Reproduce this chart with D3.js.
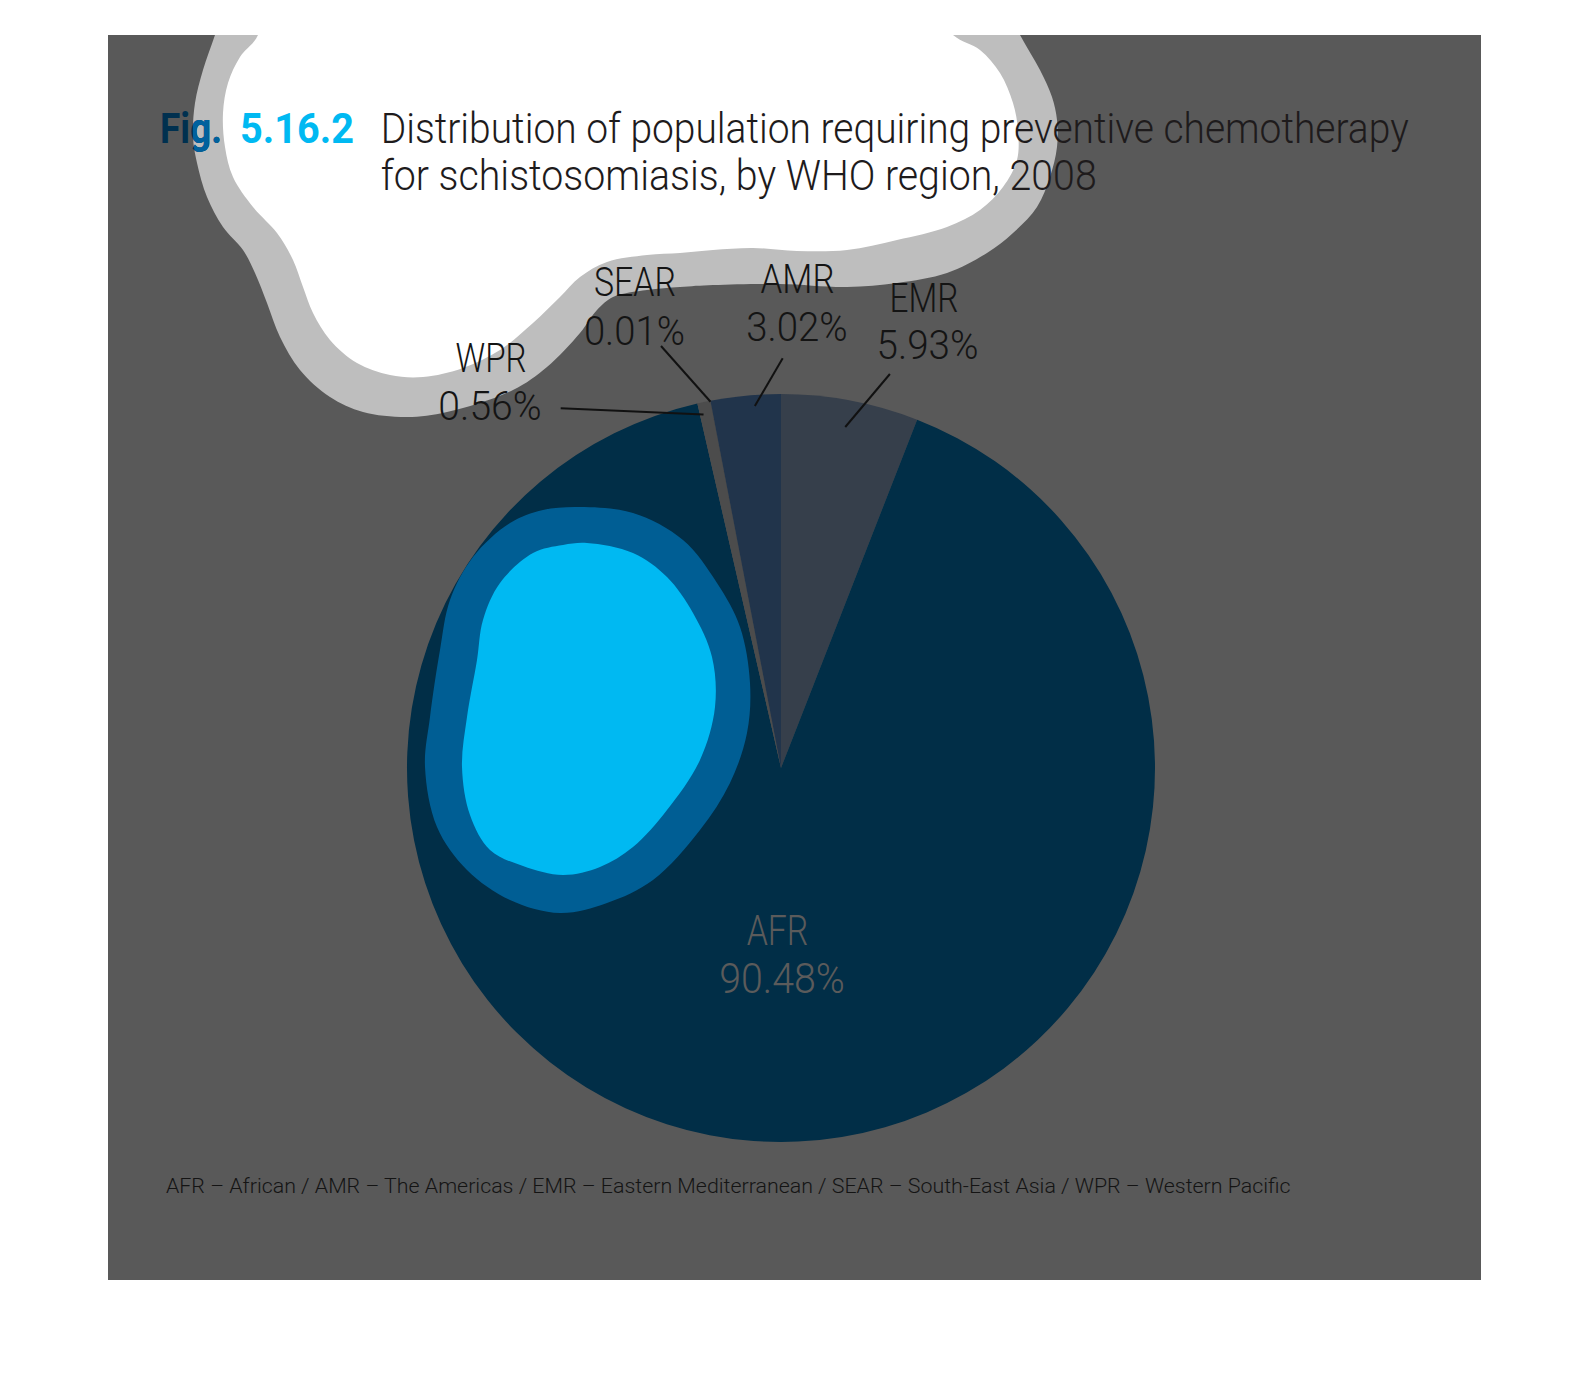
<!DOCTYPE html>
<html>
<head>
<meta charset="utf-8">
<script src="https://cdn.jsdelivr.net/npm/d3@7"></script>
<style>
  html, body { margin: 0; padding: 0; background: #ffffff; }
  svg { display: block; }
</style>
</head>
<body>
<script>
// ---------------- DATA ----------------
const regions = ["EMR", "AFR", "WPR", "SEAR", "AMR"];          // clockwise from 12 o'clock
const shares = [5.93, 90.48, 0.56, 0.01, 3.02];                  // percent of population
const shareLabels = ["5.93%", "90.48%", "0.56%", "0.01%", "3.02%"];
const figNumberParts = ["Fig.", "5.16.2"];
const titleLines = [
  "Distribution of population requiring preventive chemotherapy",
  "for schistosomiasis, by WHO region, 2008"
];
const footnote = "AFR – African / AMR – The Americas / EMR – Eastern Mediterranean / SEAR – South-East Asia / WPR – Western Pacific";

// ---------------- LAYOUT / STYLE ----------------
const W = 1590, H = 1374;
const panel = {x: 108, y: 35, w: 1373, h: 1245};
const cx = 781, cy = 768, R = 374;
const sliceColors = {EMR: "#363f4b", AFR: "#012e47", WPR: "#4c4c4c", SEAR: "#3a3a3a", AMR: "#21344b"};
const FONT = "Roboto, 'Liberation Sans Narrow', 'DejaVu Sans Condensed', sans-serif";
const LIGHT = 300;

// label placement (center x, baseline of name, baseline of value, text widths, leader line)
const labelLayout = {
  SEAR: {x1: 635, x2: 634.4, y1: 296, y2: 345, w1: 82, w2: 101, line: {ox: 661, oy: 346, t: 0.5, r: 373}},
  AMR:  {x1: 797.5, x2: 797, y1: 293.3, y2: 340.7, w1: 74, w2: 101.4, line: {ox: 782.7, oy: 358.3, t: 0.62, r: 363}},
  EMR:  {x1: 924, x2: 927.5, y1: 311.7, y2: 359.3, w1: 69, w2: 102, line: {ox: 889.9, oy: 374, t: 0.5, r: 347}},
  WPR:  {x1: 491, x2: 490, y1: 371.7, y2: 420, w1: 71, w2: 103.3, line: {ox: 560.7, oy: 408.3, t: 0.28, r: 362}},
  AFR:  {x1: 777.5, x2: 782, y1: 945, y2: 993.3, w1: 61.7, w2: 125.7, inside: true}
};

// decorative blob outlines (page coordinates)
const blobOuter = [[232,-15],[215,35],[203,70],[195,103],[193,137],[197,163],[207,197],[223,227],[243,250],[255,273],[267,303],[280,337],[300,370],[330,397],[363,412],[407,417],[447,412],[513,390],[547,367],[580,333],[597,310],[613,297],[647,290],[680,287],[713,285],[780,284],[847,287],[897,283],[947,273],[987,253],[1013,233],[1037,207],[1050,177],[1057,147],[1057,120],[1052,97],[1040,70],[1020,35],[995,-15],[600,-40]];
const blobInner = [[265,-15],[258,35],[240,57],[228,83],[223,113],[225,147],[233,177],[253,207],[277,233],[293,260],[303,287],[313,313],[330,340],[357,363],[390,375],[423,377],[463,368],[500,350],[533,323],[560,297],[580,277],[607,262],[647,255],[680,253],[713,250],[753,248],[797,251],[847,250],[897,240],[947,227],[980,210],[1003,187],[1017,160],[1018,130],[1013,103],[1000,73],[980,50],[953,35],[915,-15],[600,-40]];
const pieBlobOuter = [[580,507],[633,513],[683,540],[717,583],[740,627],[750,683],[747,733],[730,783],[700,830],[653,880],[607,903],[560,913],[510,900],[467,870],[437,827],[425,767],[430,717],[440,650],[450,600],[473,557],[510,523],[543,510]];
const pieBlobInner = [[587,543],[633,553],[667,577],[693,613],[712,657],[715,707],[700,760],[667,810],[633,847],[600,867],[563,875],[523,866],[490,850],[470,815],[462,767],[467,717],[477,660],[483,620],[500,583],[533,553],[563,545]];

// ---------------- DRAW ----------------
const svg = d3.select("body").append("svg").attr("width", W).attr("height", H);
const defs = svg.append("defs");
defs.append("clipPath").attr("id", "panelClip").append("rect")
  .attr("x", panel.x).attr("y", panel.y).attr("width", panel.w).attr("height", panel.h);

const blobLine = d3.line().curve(d3.curveCatmullRomClosed.alpha(0.5));
defs.append("clipPath").attr("id", "blobClip").append("path").attr("d", blobLine(blobOuter));

svg.append("rect").attr("x", panel.x).attr("y", panel.y).attr("width", panel.w).attr("height", panel.h)
  .attr("fill", "#595959");

const deco = svg.append("g").attr("clip-path", "url(#panelClip)");
deco.append("path").attr("d", blobLine(blobOuter)).attr("fill", "#bebebe");
deco.append("path").attr("d", blobLine(blobInner)).attr("fill", "#ffffff");

// pie
const pie = d3.pie().sort(null).value(d => d.value);
const arcs = pie(regions.map((r, i) => ({region: r, value: shares[i], label: shareLabels[i]})));
const arc = d3.arc().innerRadius(0).outerRadius(R);
const pg = svg.append("g").attr("transform", `translate(${cx},${cy})`);
pg.selectAll("path.slice").data(arcs).join("path")
  .attr("class", "slice")
  .attr("d", arc)
  .attr("fill", d => sliceColors[d.data.region]);

// pie decorative blob
svg.append("path").attr("d", blobLine(pieBlobOuter)).attr("fill", "#005e94");
svg.append("path").attr("d", blobLine(pieBlobInner)).attr("fill", "#00b9f2");

// leader lines
arcs.forEach(d => {
  const L = labelLayout[d.data.region];
  if (!L.line) return;
  const a = d.startAngle + L.line.t * (d.endAngle - d.startAngle);
  const ix = cx + L.line.r * Math.sin(a), iy = cy - L.line.r * Math.cos(a);
  svg.append("line").attr("x1", L.line.ox).attr("y1", L.line.oy).attr("x2", ix).attr("y2", iy)
    .attr("stroke", "#111111").attr("stroke-width", 2);
});

// labels
arcs.forEach(d => {
  const L = labelLayout[d.data.region];
  const inside = !!L.inside;
  const col = inside ? "#5b5b5b" : "#141414";
  const fs = inside ? 43 : 41;
  [[L.x1, L.y1, L.w1, d.data.region], [L.x2, L.y2, L.w2, d.data.label]].forEach(([x, y, w, t]) => {
    svg.append("text").attr("x", x).attr("y", y).attr("text-anchor", "middle")
      .attr("font-family", FONT).attr("font-size", fs).attr("font-weight", LIGHT).attr("fill", col)
      .attr("textLength", w).attr("lengthAdjust", "spacingAndGlyphs")
      .text(t);
  });
});

// title
function figText(g, color) {
  g.append("text").attr("x", 160).attr("y", 142.7)
    .attr("font-family", FONT).attr("font-size", 43).attr("font-weight", 700).attr("fill", color)
    .attr("textLength", 62).attr("lengthAdjust", "spacingAndGlyphs").text(figNumberParts[0]);
}
figText(svg, "#00304f");
figText(svg.append("g").attr("clip-path", "url(#blobClip)"), "#00619e");
svg.append("text").attr("x", 240).attr("y", 142.7)
  .attr("font-family", FONT).attr("font-size", 43).attr("font-weight", 700).attr("fill", "#00b9f2")
  .attr("textLength", 114).attr("lengthAdjust", "spacingAndGlyphs").text(figNumberParts[1]);
const titleWidths = [1028, 716];
titleLines.forEach((t, i) => {
  svg.append("text").attr("x", 380.7).attr("y", 142.7 + i * 47.5)
    .attr("font-family", FONT).attr("font-size", 43).attr("font-weight", LIGHT).attr("fill", "#1e1b1c")
    .attr("textLength", titleWidths[i]).attr("lengthAdjust", "spacingAndGlyphs").text(t);
});

// footnote
svg.append("text").attr("x", 166).attr("y", 1193.3)
  .attr("font-family", FONT).attr("font-size", 21).attr("font-weight", LIGHT).attr("fill", "#141414")
  .attr("textLength", 1124.5).attr("lengthAdjust", "spacingAndGlyphs").text(footnote);
</script>
</body>
</html>
